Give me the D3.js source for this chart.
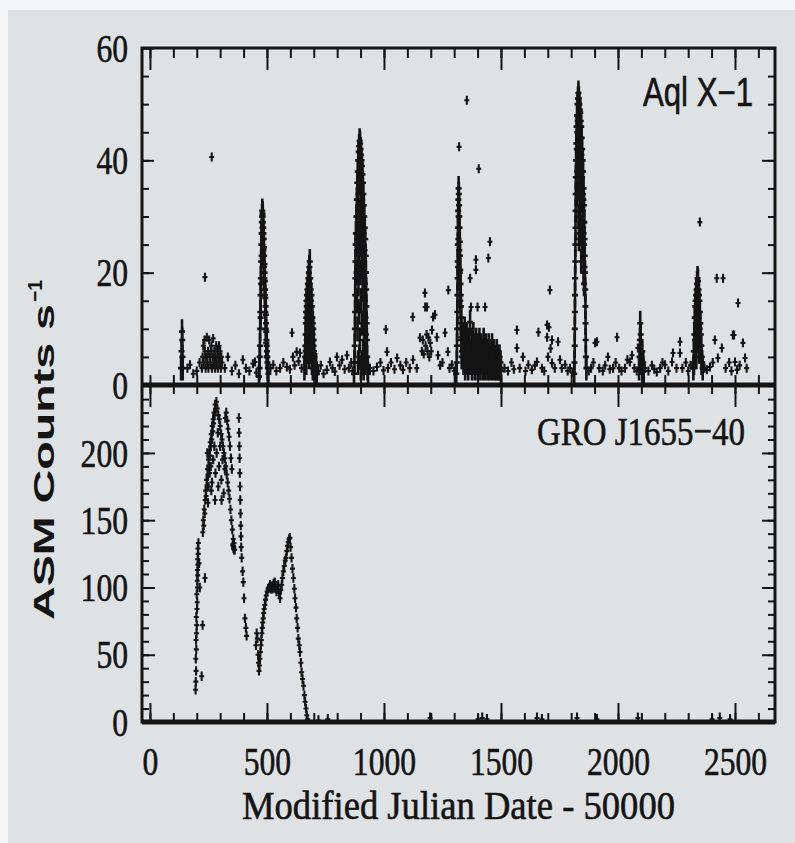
<!DOCTYPE html>
<html>
<head>
<meta charset="utf-8">
<script src="https://cdn.jsdelivr.net/npm/d3@7"></script>
<style>
  body { margin: 0; background: #f4f5f6; }
  svg { display: block; }
</style>
</head>
<body>
<div id="chart"></div>
<script>
// ---- data (MJD - 50000, counts/s) ----

// Aql X-1: points inside the outbursts
const aqlFlares = [
  // spike near 137
  [133,3],[135,6],[137,9.5],[138,8],[139,5],[140,3],
  // outburst ~480
  [466,1.5],[468,3],[469,5],[470,7],[471,10],[472,13],[473,16],[474,19],[475,22],[476,25],[477,27],[478,29],[479,30],
  [480,31],[481,30.5],[482,30],[483,29],[484,28],[485,27],[486,26],[487,24.5],[488,23],[489,21.5],[490,20],[491,18.5],
  [492,17],[493,15.5],[494,14],[495,12.5],[496,11],[497,9.5],[498,8],[499,7],[500,6],[501,5],[502,4],[504,3],[506,2],
  [473,12],[475,18],[477,23],[479,27],[481,28],[483,26],[485,24],[487,21],[489,19],[491,16],[493,13],[495,10],[497,7.5],[499,5],
  // outburst ~680
  [660,3],[662,5],[664,7],[665,9],[666,11],[667,13],[668,12],[669,15],[670,14],[671,16],[672,13],[673,17],[674,15],
  [675,18],[676,16],[677,19],[678,14],[679,20],[680,17],[681,21],[682,18],[683,22],[684,16],[685,19],[686,13],[687,17],
  [688,15],[689,12],[690,16],[691,11],[692,14],[693,10],[694,12],[695,9],[696,11],[697,8],[698,10],[699,7],[700,8],
  [701,6],[702,5],[704,4],[706,3],[708,2.5],[710,3.5],[713,2],
  [666,6],[668,4],[670,8],[672,6],[674,10],[676,7],[678,9],[680,5],[682,11],[684,8],[686,9],[688,6],[690,7],[692,4],[694,6],[696,3],[698,5],[702,3],
  // outburst ~900
  [872,2],[874,4],[875,7],[876,10],[876.5,13],[877,16],[877.5,19],[878,22],[879,25],[880,27],[882,30],[884,33],[886,36],
  [888,38],[890,40],[892,41.5],[894,42.5],[896,43.5],[898,43],[900,42],[902,41],[904,40],[906,39],[908,37.5],[910,36],
  [912,34],[914,32],[916,30],[918,28],[920,26],[922,23],[923,20],[924,17],[925,14],[926,11],[927,8],[928,5],[930,3],[932,2],
  [883,20],[885,15],[885,26],[887,10],[887,30],[889,22],[891,18],[891,34],[893,13],[893,27],[895,24],[895,37],[897,8],
  [897,31],[899,20],[899,36],[901,15],[901,28],[903,25],[903,34],[905,11],[905,30],[907,21],[907,33],[909,17],[909,28],
  [911,24],[911,6],[913,13],[913,27],[915,20],[915,9],[917,24],[917,15],[919,18],[919,7],[921,12],[921,20],[923,9],[924,5],
  [889,4],[895,5],[901,3],[907,4],[913,3],[919,4],
  // outburst ~1320
  [1309,2],[1311,4],[1312,7],[1313,10],[1313.5,13],[1314,16],[1314.5,19],[1315,22],[1315.5,25],[1316,28],[1317,31],
  [1318,33],[1319,35],[1320,34],[1321,32],[1322,30],[1323,28],[1324,25.5],[1325,23],[1326,20.5],[1327,18],[1328,16],
  [1329,14],[1330,12],[1331,10],[1332,8.5],[1333,7],[1334,6],[1336,5],
  [1317,21],[1318,26],[1319,30],[1320,28],[1322,24],[1324,20],[1326,15],[1328,11],[1330,8],[1332,5],
  // tail 1335-1500
  [1337,6],[1339,9],[1340,4],[1342,7],[1344,5],[1345,10],[1347,3],[1349,8],[1351,6],[1352,4],[1354,9],[1356,5],[1358,7],
  [1360,3],[1362,6],[1364,8],[1366,4],[1368,11.2],[1370,6],[1372,5],[1374,8],[1376,3],[1378,7],[1380,5],[1382,9],[1384,4],
  [1386,6],[1388,3],[1390,7],[1392,5],[1394,8],[1396,4],[1398,6],[1400,3],[1402,7],[1404,5],[1406,4],[1408,8],[1410,6],
  [1412,3],[1414,5],[1416,7],[1418,4],[1420,6],[1422,3],[1424,5],[1426,8],[1428,4],[1430,6],[1432,3],[1434,5],[1436,7],
  [1438,4],[1440,6],[1442,3],[1444,5],[1446,4],[1448,7],[1450,3],[1452,5],[1454,6],[1456,4],[1458,3],[1460,5],[1462,7],
  [1464,4],[1466,3],[1468,5],[1470,6],[1472,4],[1474,3],[1476,5],[1478,4],[1480,3],[1482,6],[1484,4],[1486,3],[1488,5],
  [1490,4],[1492,3],[1494,5],[1496,3],[1498,4],[1500,2.5],
  // outburst ~1830
  [1813,2],[1814,4],[1815,7],[1815.5,10],[1816,13],[1816.5,16],[1817,19],[1817.5,22],[1818,25],[1818.5,28],[1819,31],
  [1819.5,34],[1820,37],[1821,40],[1822,43],[1823,46],[1825,48],[1827,50],[1829,51],[1831,52],[1833,51],[1835,50],
  [1837,49],[1839,48.5],[1841,47],[1843,46],[1845,44],[1847,42],[1849,40],[1851,38],[1853,35],[1855,32],[1856,29],
  [1857,26],[1858,23],[1859,20],[1860,17],[1861,14],[1861.5,11],[1862,8],[1863,5],[1865,3],
  [1824,42],[1826,45],[1828,47],[1830,44],[1832,48],[1834,45],[1836,46],[1838,43],[1840,44],[1842,40],[1844,41],
  [1846,37],[1848,38],[1850,34],[1852,33],[1854,29],[1825,38],[1829,40],[1833,39],[1837,40],[1841,37],[1845,34],
  [1849,31],[1853,27],[1827,34],[1835,35],[1843,33],[1851,28],[1831,30],[1839,31],[1847,28],[1855,25],[1857,21],
  [1833,26],[1845,25],[1837,27],[1843,22],[1849,24],[1853,20],[1855,18],
  // small outburst ~2095
  [2090,3],[2092,5],[2094,8],[2095,11],[2096,7],[2097,9],[2098,6],[2099,4],[2100,5],[2102,4],[2104,6],[2106,3],[2108,4],[2110,2.5],
  // outburst ~2340
  [2322,3],[2324,6],[2326,9],[2328,12],[2330,14],[2332,15],[2334,16],[2336,17],[2338,18],[2340,19],[2342,18.5],
  [2344,17],[2346,16],[2348,15],[2350,13],[2352,11],[2354,9],[2356,7],[2358,5],[2360,4],[2362,3],
  [2325,4],[2329,8],[2331,6],[2333,11],[2335,5],[2337,13],[2339,9],[2341,14],[2343,8],[2345,12],[2347,6],[2349,10],[2353,7],[2357,4]
];

// Aql X-1: quiescent / isolated points
const aqlQuiet = [
  [160,3],[171,3.6],[185,2],[200,2.5],[212,4],[235,19.2],[264,40.6],
  [222,3],[225,5],[228,7],[230,4],[233,8],[235,6],[238,3],[240,5],[243,8.5],[245,4],[248,6],[250,3],[253,8],[255,5],
  [258,4],[260,6],[263,7],[265,3],[268,5],[270,8.3],[273,4],[275,6],[278,3],[280,5],[283,7],[285,4],[288,6],[290,3],
  [293,5],[295,7],[298,4],[300,6],[303,3],[305,5],[308,4],
  [320,3],[333,5],[350,2.5],[365,3.5],[380,2],[397,4.5],[410,3],[425,2.5],[440,3.8],[449,4.1],[455,2.2],
  [515,3],[527,3.6],[540,2.5],[556,3],[570,4],[585,3.2],[598,2.8],[607,9.3],[611,5],[618,3.5],[627,5.9],[635,4.2],[641,5.7],[648,3],
  [720,2.5],[730,3.5],[742,2],[756,2.7],[769,4.1],[780,3],[790,2.4],[799,5],[810,3.5],[821,4.5],[832,2.8],[842,5.3],[850,3],[860,4],[866,2.5],
  [940,3],[955,2.5],[970,3.2],[985,4],[998,2.6],[1008,9.9],[1013,5.9],[1017,3],[1030,4],[1045,2.8],[1056,4.8],[1070,3.5],
  [1081,2.7],[1095,4],[1110,3],[1123,12.1],[1124,4.5],[1140,3],[1154,8.4],[1162,6],[1166,8],[1170,5.5],[1175,16.4],
  [1176,13.9],[1178,7],[1182,9],[1184,13.9],[1186,6],[1190,8.5],[1194,5],[1198,7.5],[1202,6],[1205,9.8],[1210,12.1],
  [1218,12.5],[1226,8.5],[1231,5.3],[1240,3.5],[1250,4],[1261,9.3],[1273,5.9],[1275,16.9],[1280,3],[1290,3.6],[1300,2.5],
  [1321,42.4],[1354,50.7],[1368,19],[1372,13.9],[1393,20.5],[1393,22.3],[1400,13.9],[1405,38.5],[1432,13.9],[1446,22.6],[1453,25.5],
  [1515,3],[1530,2.5],[1545,4],[1555,2.8],[1568,9.8],[1568,6.6],[1580,3],[1594,5],[1605,2.5],[1617,3.6],[1632,2.7],
  [1645,3.5],[1654,4.1],[1660,9.4],[1675,3],[1685,2.5],[1697,10.7],[1697,8.5],[1701,5],[1705,10.3],[1709,16.9],
  [1712,6.5],[1718,8],[1718,3.9],[1730,3],[1744,7.7],[1752,4.5],[1760,3],[1774,3.6],[1785,2.5],[1795,3],[1805,2.2],
  [1875,2.5],[1885,3],[1895,4],[1902,7.5],[1910,7.7],[1920,3],[1935,2.5],[1945,3.5],[1957,5],[1965,2.8],[1979,3],
  [1990,4],[1996,8.5],[2005,3],[2015,2.5],[2030,3],[2040,4.5],[2051,4.1],[2060,5.3],[2070,3],[2080,2.5],[2085,6.6],
  [2115,3],[2130,2.5],[2145,3.5],[2155,2.8],[2166,2.3],[2180,3],[2190,4],[2201,3.6],[2215,2.5],[2231,4.1],[2235,5.7],
  [2250,3],[2265,7.7],[2265,5.7],[2275,3],[2290,4],[2300,2.5],[2310,3.5],
  [2350,29],[2370,3],[2380,2.7],[2393,3.2],[2405,4],[2414,8],[2422,19],[2427,4.8],[2444,6.6],[2449,19],[2460,3],
  [2475,4],[2485,2.5],[2491,8.9],[2496,8.9],[2500,4.1],[2509,2.7],[2513,14.6],[2520,3.5],[2534,7.5],[2543,4.8],[2550,3]
];

// GRO J1655-40
const groPoints = [
  // rise
  [195,24],[196,30],[197,38],[196,47],[198,54],[197,61],[199,66],[200,72],[198,78],[201,84],[202,89],[200,95],
  [203,100],[202,105],[204,109],[203,113],[205,117],[204,121],[206,125],[205,129],[207,133],[221,34],[225,72],
  [235,107],[213,100],[210,118],
  // first maximum
  [226,141],[228,150],[230,146],[232,158],[234,155],[236,165],[238,172],[240,168],[242,180],[244,176],[246,188],
  [248,184],[250,195],[252,190],[254,202],[256,198],[258,208],[260,205],[262,214],[264,210],[266,220],[268,216],
  [270,225],[272,222],[274,230],[276,228],[278,236],[280,232],
  [245,200],[250,175],[255,185],[260,190],[265,178],[270,195],[275,205],[280,185],[285,200],[290,215],[295,190],
  [300,205],[305,180],[310,195],[315,170],[320,188],[248,163],[262,172],[278,165],[292,175],[306,165],
  [284,238],[288,233],[292,228],[296,225],[300,220],[304,214],[308,210],[312,205],[316,200],[320,196],[324,190],
  [328,184],[332,178],[336,172],[340,166],[344,158],[348,150],[352,143],[356,136],[358,130],[360,128],[354,132],
  [322,226],[326,230],[330,224],[334,218],[338,212],[342,205],[346,196],[350,188],[355,131],[357,129],[359,133],[362,128],
  [380,226],[381,215],[382,205],[383,196],[384,185],[385,175],[386,165],[387,155],[388,146],[389,138],[390,130],
  // decline and dip
  [392,122],[396,112],[399,104],[402,92],[406,77],[410,70],[413,64],[453,57],[456,66],[459,62],[462,50],[464,44],[466,38],
  // second maximum
  [468,42],[470,47],[472,52],[474,57],[476,61],[478,66],[480,70],[482,74],[484,77],[486,81],[488,84],[491,87],[494,91],
  [497,94],[501,97],[505,99],[509,100],[513,102],[517,99],[520,101],[524,99],[528,103],[531,100],[534,104],[538,99],
  [541,97],[545,101],[548,102],[552,96],[556,92],[559,98],[563,102],[566,107],[570,112],[574,116],[578,120],
  [581,122],[585,127],[588,131],[591,134],[595,136],[598,137],
  [601,130],[605,122],[609,114],[613,107],[617,99],[620,92],[624,85],[627,77],[631,70],[634,62],[638,57],[641,52],
  [645,44],[648,37],[652,32],[656,27],[660,20],[663,15],[667,10],[670,5],[674,2]
];

const groQuiet = [
  [720,1],[760,2],[1197,3],[1402,2],[1420,3],[1440,2],[1654,3],[1675,2],[1825,3],[1910,2],[2085,3],[2402,2],[2435,3],[2479,2]
];

// tick labels
const xTicks = [0, 500, 1000, 1500, 2000, 2500];
const topTicks = [0, 20, 40, 60];
const botTicks = [0, 50, 100, 150, 200];

const ink = "#141414";

const x = d3.scaleLinear().domain([-34, 2671]).range([142, 775]);
const yTop = d3.scaleLinear().domain([0, 60]).range([385, 48]);
const yBot = d3.scaleLinear().domain([0, 250.5]).range([722, 385]);

const svg = d3.select("#chart").append("svg")
  .attr("width", 795).attr("height", 843);

svg.append("rect")
  .attr("x", 8).attr("y", 10).attr("width", 787).attr("height", 833)
  .attr("fill", "#dfe2e5");

// clip each panel
const defs = svg.append("defs");
defs.append("clipPath").attr("id", "clipTop").append("rect")
  .attr("x", 142).attr("y", 48).attr("width", 633).attr("height", 337);
defs.append("clipPath").attr("id", "clipBot").append("rect")
  .attr("x", 142).attr("y", 385).attr("width", 633).attr("height", 337);

// each measurement drawn as a small cross with its error bar
function drawPoints(data, y, err, clip, arm, sw) {
  svg.append("g")
    .attr("clip-path", `url(#${clip})`)
    .attr("stroke", ink).attr("stroke-width", sw).attr("fill", "none")
    .selectAll("path")
    .data(data)
    .join("path")
    .attr("d", (d) => {
      const px = x(d[0]), py = y(d[1]);
      return `M${px - arm},${py}H${px + arm}M${px},${y(d[1] - err)}V${y(d[1] + err)}`;
    });
}

drawPoints(aqlQuiet, yTop, 0.8, "clipTop", 2.5, 2.1);
drawPoints(aqlFlares, yTop, 2.2, "clipTop", 3, 2.6);
drawPoints(groPoints, yBot, 3.5, "clipBot", 2.5, 2.1);
drawPoints(groQuiet, yBot, 4, "clipBot", 2.5, 2.1);

// inward ticks
function tickAxis(axisFn, scale, values, size, tx, ty) {
  svg.append("g")
    .attr("transform", `translate(${tx},${ty})`)
    .call(axisFn(scale).tickValues(values).tickSize(size).tickFormat(""))
    .call((g) => g.select(".domain").remove())
    .call((g) => g.selectAll("line").attr("stroke", ink).attr("stroke-width", 2));
}

const xMinor = d3.range(0, 2700, 100);
const topMinor = d3.range(0, 61, 5);
const botMinor = d3.range(0, 251, 10);

tickAxis(d3.axisBottom, x, xMinor, 10, 0, 48);
tickAxis(d3.axisBottom, x, xTicks, 22, 0, 48);
tickAxis(d3.axisTop, x, xMinor, 10, 0, 385);
tickAxis(d3.axisBottom, x, xMinor, 9, 0, 385);
tickAxis(d3.axisBottom, x, xTicks, 22, 0, 385);
tickAxis(d3.axisTop, x, xMinor, 9, 0, 722);
tickAxis(d3.axisTop, x, xTicks, 19, 0, 722);

tickAxis(d3.axisRight, yTop, topMinor, 7, 142, 0);
tickAxis(d3.axisRight, yTop, topTicks, 12, 142, 0);
tickAxis(d3.axisLeft, yTop, topMinor, 7, 775, 0);
tickAxis(d3.axisLeft, yTop, topTicks, 13, 775, 0);
tickAxis(d3.axisRight, yBot, botMinor, 7, 142, 0);
tickAxis(d3.axisRight, yBot, botTicks, 13, 142, 0);
tickAxis(d3.axisLeft, yBot, botMinor, 7, 775, 0);
tickAxis(d3.axisLeft, yBot, botTicks, 13, 775, 0);

// frame
svg.append("rect")
  .attr("x", 142).attr("y", 48).attr("width", 633).attr("height", 674)
  .attr("fill", "none").attr("stroke", ink).attr("stroke-width", 3);
svg.append("line")
  .attr("x1", 142).attr("x2", 775).attr("y1", 385).attr("y2", 385)
  .attr("stroke", ink).attr("stroke-width", 5);
svg.append("line")
  .attr("x1", 142).attr("x2", 775).attr("y1", 722).attr("y2", 722)
  .attr("stroke", ink).attr("stroke-width", 5);

// tick labels
function labelAxis(axis, tx, ty) {
  svg.append("g")
    .attr("transform", `translate(${tx},${ty})`)
    .call(axis.tickSize(0).tickFormat(d3.format("d")))
    .call((g) => g.select(".domain").remove())
    .call((g) => g.selectAll("line").remove())
    .call((g) =>
      g.selectAll("text")
        .attr("fill", ink)
        .attr("font-family", "'Liberation Serif', 'Times New Roman', serif")
        .attr("font-size", 41)
        .attr("stroke", ink).attr("stroke-width", 0.6)
        .attr("textLength", (d) => 15.8 * String(d).length)
        .attr("lengthAdjust", "spacingAndGlyphs")
    );
}

labelAxis(d3.axisBottom(x).tickValues(xTicks).tickPadding(24), 0, 722);
labelAxis(d3.axisLeft(yTop).tickValues(topTicks).tickPadding(14), 142, 0);
labelAxis(d3.axisLeft(yBot).tickValues(botTicks).tickPadding(14), 142, 0);

// titles
const serif = "'Liberation Serif', serif";
const sans = "'Liberation Sans', Arial, sans-serif";

svg.append("text")
  .attr("x", 242).attr("y", 819)
  .attr("fill", ink).attr("stroke", ink).attr("stroke-width", 0.6)
  .attr("font-family", serif)
  .attr("font-size", 41)
  .attr("textLength", 433).attr("lengthAdjust", "spacingAndGlyphs")
  .text("Modified Julian Date - 50000");

svg.append("text")
  .attr("transform", "translate(54,620) rotate(-90)")
  .attr("fill", ink)
  .attr("font-family", sans)
  .attr("font-weight", "bold")
  .attr("font-size", 30)
  .attr("textLength", 316).attr("lengthAdjust", "spacingAndGlyphs")
  .text("ASM Counts s");

svg.append("text")
  .attr("transform", "translate(42,302) rotate(-90)")
  .attr("fill", ink)
  .attr("font-family", sans)
  .attr("font-weight", "bold")
  .attr("font-size", 20)
  .attr("textLength", 22).attr("lengthAdjust", "spacingAndGlyphs")
  .text("\u22121");

svg.append("text")
  .attr("x", 643).attr("y", 106)
  .attr("fill", ink).attr("stroke", ink).attr("stroke-width", 0.6)
  .attr("font-family", sans)
  .attr("font-size", 40)
  .attr("textLength", 110).attr("lengthAdjust", "spacingAndGlyphs")
  .text("Aql X\u22121");

svg.append("text")
  .attr("x", 537).attr("y", 445)
  .attr("fill", ink).attr("stroke", ink).attr("stroke-width", 0.6)
  .attr("font-family", serif)
  .attr("font-size", 41)
  .attr("textLength", 208).attr("lengthAdjust", "spacingAndGlyphs")
  .text("GRO J1655\u221240");
</script>
</body>
</html>
